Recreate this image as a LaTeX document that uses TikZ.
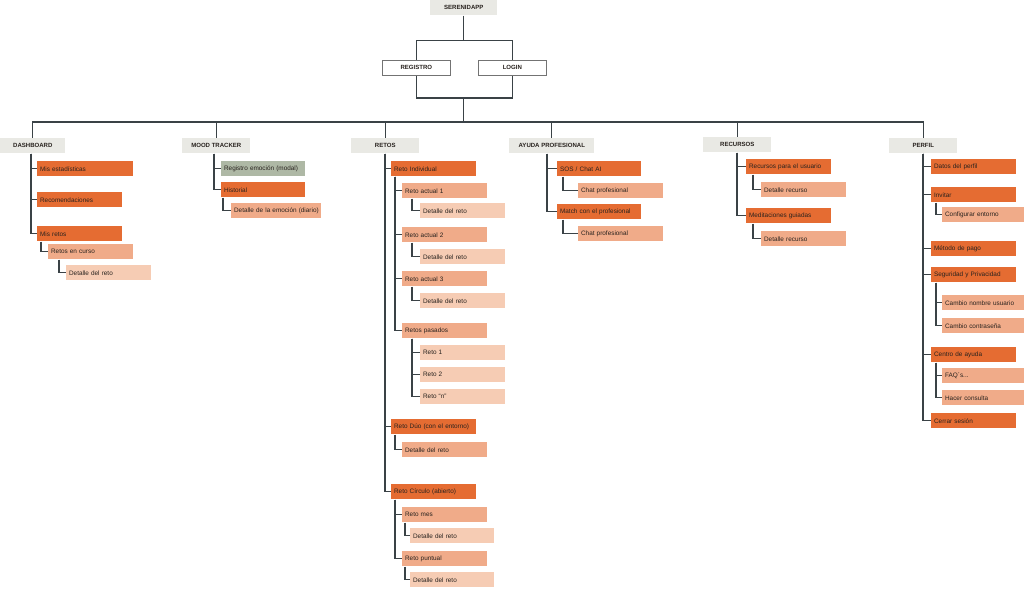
\documentclass[tikz,border=0pt]{standalone}
\usepackage{fontspec}
\setmainfont{Liberation Sans}
\usetikzlibrary{positioning,calc}
\definecolor{lineslate}{RGB}{58,66,70}
\definecolor{boxcat}{RGB}{233,233,228}
\definecolor{boxdark}{RGB}{229,108,50}
\definecolor{boxmid}{RGB}{240,171,137}
\definecolor{boxlight}{RGB}{246,204,180}
\definecolor{boxsage}{RGB}{174,184,165}
\definecolor{txtdark}{RGB}{40,34,30}
\tikzset{
  basebox/.style={rectangle,anchor=north west,minimum height=0.375cm,inner xsep=0.07cm,inner ysep=0pt,
    text width=1.985cm,align=left,text=txtdark,font=\fontsize{4.55}{5.4}\selectfont},
  dk/.style={basebox,fill=boxdark},
  md/.style={basebox,fill=boxmid},
  lt/.style={basebox,fill=boxlight},
  sage/.style={basebox,fill=boxsage},
  catbox/.style={rectangle,anchor=north west,minimum height=0.375cm,minimum width=1.7cm,inner sep=0pt,
    fill=boxcat,text=txtdark,font=\fontsize{4.3}{5}\selectfont\bfseries},
  authbox/.style={catbox,fill=white,draw=black!55,line width=0.5pt},
  link/.style={draw=lineslate,line width=0.9pt}
}
\begin{document}
\begin{tikzpicture}[x=0.025cm,y=-0.025cm]
  \fill[white] (0,0) rectangle (1024,588);
  \useasboundingbox (0,0) rectangle (1024,588);
  % entry
  \node[catbox,minimum width=1.675cm] (app) at (430,0) {SERENIDAPP};
  \node[authbox] (reg) at (382,60) {REGISTRO};
  \node[authbox] (login) at (478,60) {LOGIN};
  \coordinate (split) at ($(app.south)+(0,25)$);
  \coordinate (join) at (split |- 0,98);
  \coordinate (bus) at (split |- 0,122);
  \draw[link] (app.south) -- (split);
  \draw[link] (split) -| (reg.north);
  \draw[link] (split) -| (login.north);
  \draw[link] (reg.south) |- (join) -| (login.south);
  \draw[link] (join) -- (bus);
  % sections
  \node[catbox,minimum width=1.625cm] (dash) at (0,138) {DASHBOARD};
  \node[catbox] (mood) at (182,138) {MOOD TRACKER};
  \node[catbox] (retos) at (351,138) {RETOS};
  \node[catbox,minimum width=2.125cm] (ayuda) at (509,138) {AYUDA PROFESIONAL};
  \node[catbox] (recur) at (703,137) {RECURSOS};
  \node[catbox] (perfil) at (889,138) {PERFIL};
  \foreach \c in {dash,mood,retos,ayuda,recur,perfil} \draw[link] (bus) -| (\c.north);
  % dashboard
  \node[dk,text width=2.26cm] (estad) at (37,161) {Mis estadísticas};
  \node[dk] (recom) at (37,192) {Recomendaciones};
  \node[dk] (misretos) at (37,226) {Mis retos};
  \node[md] (encurso) at (48,244) {Retos en curso};
  \node[lt] (detdash) at (66,265) {Detalle del reto};
  % mood tracker
  \node[sage,text width=1.96cm] (regemo) at (221,161) {Registro emoción (modal)};
  \node[dk,text width=1.96cm] (hist) at (221,182) {Historial};
  \node[md,text width=2.11cm] (detemo) at (231,203) {\mbox{Detalle de la emoción (diario)}};
  % retos
  \node[dk] (indiv) at (391,161) {Reto Individual};
  \node[md] (act1) at (402,183) {Reto actual 1};
  \node[lt] (det1) at (420,203) {Detalle del reto};
  \node[md] (act2) at (402,227) {Reto actual 2};
  \node[lt] (det2) at (420,249) {Detalle del reto};
  \node[md] (act3) at (402,271) {Reto actual 3};
  \node[lt] (det3) at (420,293) {Detalle del reto};
  \node[md] (pasad) at (402,323) {Retos pasados};
  \node[lt] (r1) at (420,345) {Reto 1};
  \node[lt] (r2) at (420,367) {Reto 2};
  \node[lt] (rn) at (420,389) {Reto “n”};
  \node[dk] (duo) at (391,419) {Reto Dúo (con el entorno)};
  \node[md] (detduo) at (402,442) {Detalle del reto};
  \node[dk] (circ) at (391,484) {Reto Círculo (abierto)};
  \node[md] (mes) at (402,507) {Reto mes};
  \node[lt,text width=1.96cm] (detmes) at (410,528) {Detalle del reto};
  \node[md] (punt) at (402,551) {Reto puntual};
  \node[lt,text width=1.96cm] (detpunt) at (410,572) {Detalle del reto};
  % ayuda profesional
  \node[dk,text width=1.96cm] (sos) at (557,161) {SOS / Chat AI};
  \node[md] (chat1) at (578,183) {Chat profesional};
  \node[dk,text width=1.96cm] (match) at (557,204) {Match con el profesional};
  \node[md] (chat2) at (578,226) {Chat profesional};
  % recursos
  \node[dk] (recus) at (746,159) {Recursos para el usuario};
  \node[md] (detr1) at (761,182) {Detalle recurso};
  \node[dk] (medit) at (746,208) {Meditaciones guiadas};
  \node[md] (detr2) at (761,231) {Detalle recurso};
  % perfil
  \node[dk] (datos) at (931,159) {Datos del perfil};
  \node[dk] (invit) at (931,187) {Invitar};
  \node[md] (config) at (942,207) {Configurar entorno};
  \node[dk] (pago) at (931,241) {Método de pago};
  \node[dk] (segur) at (931,267) {Seguridad y Privacidad};
  \node[md] (nombre) at (942,295) {Cambio nombre usuario};
  \node[md] (contra) at (942,318) {Cambio contraseña};
  \node[dk] (centro) at (931,347) {Centro de ayuda};
  \node[md] (faq) at (942,368) {FAQ´s...};
  \node[md] (consul) at (942,390) {Hacer consulta};
  \node[dk] (cerrar) at (931,413) {Cerrar sesión};
  % tree links: parent/child/offset of the stem from the parent's left edge
  \foreach \p/\c/\o in {dash/estad/31,dash/recom/31,dash/misretos/31,misretos/encurso/4,encurso/detdash/11,
      mood/regemo/32,mood/hist/32,hist/detemo/2,
      retos/indiv/34,indiv/act1/4,act1/det1/10,indiv/act2/4,act2/det2/10,indiv/act3/4,act3/det3/10,
      indiv/pasad/4,pasad/r1/10,pasad/r2/10,pasad/rn/10,retos/duo/34,duo/detduo/4,
      retos/circ/34,circ/mes/4,mes/detmes/3,circ/punt/4,punt/detpunt/3,
      ayuda/sos/38,sos/chat1/6,ayuda/match/38,match/chat2/6,
      recur/recus/34,recus/detr1/7,recur/medit/34,medit/detr2/7,
      perfil/datos/34,perfil/invit/34,invit/config/5,perfil/pago/34,perfil/segur/34,segur/nombre/5,segur/contra/5,
      perfil/centro/34,centro/faq/5,centro/consul/5,perfil/cerrar/34}
    \draw[link] ($(\p.south west)+(\o,0)$) |- (\c.west);
\end{tikzpicture}
\end{document}
